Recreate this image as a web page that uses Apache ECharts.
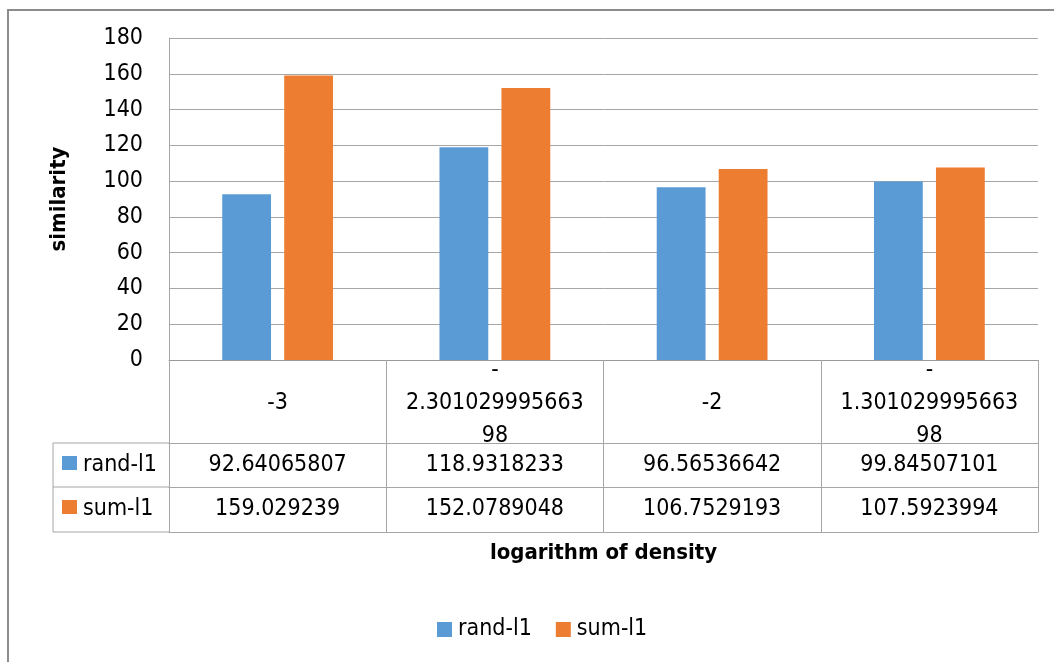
<!DOCTYPE html>
<html>
<head>
<meta charset="utf-8">
<script src="https://cdn.jsdelivr.net/npm/echarts@6/dist/echarts.min.js"></script>
<style>html,body{margin:0;padding:0;background:#fff;}#c{width:1054px;height:662px;}</style>
</head>
<body>
<div id="c"></div>
<script>
const categories = ['-3', '-\n2.301029995663\n98', '-2', '-\n1.301029995663\n98'];
const seriesNames = ['rand-l1', 'sum-l1'];
const randL1 = [92.64065807, 118.9318233, 96.56536642, 99.84507101];
const sumL1 = [159.029239, 152.0789048, 106.7529193, 107.5923994];
const yMin = 0, yMax = 180, yStep = 20;
const colors = ['#5B9BD5', '#ED7D31'];

const FONT = "'Liberation Sans Narrow', 'DejaVu Sans Condensed', sans-serif";
const FS = 23;
const FSB = 22;
const gridCol = '#a6a6a6';

const chart = echarts.init(document.getElementById('c'));
const hidden = {show: false};
const baseX = {
  type: 'category', data: categories, position: 'bottom', gridIndex: 0,
  axisLine: {show: true, lineStyle: {color: gridCol, width: 1}},
  axisTick: {show: false}
};
chart.setOption({
  backgroundColor: '#fff',
  animation: false,
  textStyle: {fontFamily: FONT},
  grid: {left: 169, right: 16, top: 38, bottom: 302, containLabel: false},
  legend: {
    data: seriesNames, top: 613, left: 432, icon: 'rect',
    itemWidth: 15, itemHeight: 15, itemGap: 24,
    textStyle: {fontFamily: FONT, fontSize: FS, color: '#000', padding: [0, 0, 0, 1]}
  },
  xAxis: [
    Object.assign({}, baseX, {
      axisLine: {show: true, lineStyle: {color: '#999', width: 1}},
      axisTick: {show: true, length: 172, interval: 0, lineStyle: {color: gridCol}},
      axisLabel: {interval: 0, margin: 43, verticalAlign: 'middle', lineHeight: 33,
        fontFamily: FONT, fontSize: FS, color: '#000'},
      name: 'logarithm of density', nameLocation: 'middle', nameGap: 193,
      nameTextStyle: {fontFamily: FONT, fontSize: FSB, fontWeight: 'bold', color: '#000', verticalAlign: 'middle'}
    }),
    Object.assign({}, baseX, {
      offset: 83,
      axisLabel: {interval: 0, margin: 22, verticalAlign: 'middle', fontFamily: FONT, fontSize: FS, color: '#000',
        formatter: (v, i) => String(randL1[i])}
    }),
    Object.assign({}, baseX, {
      offset: 127,
      axisLabel: {interval: 0, margin: 22, verticalAlign: 'middle', fontFamily: FONT, fontSize: FS, color: '#000',
        formatter: (v, i) => String(sumL1[i])}
    }),
    Object.assign({}, baseX, {offset: 172, axisLabel: hidden})
  ],
  yAxis: {
    type: 'value', min: yMin, max: yMax, interval: yStep,
    axisLine: {show: true, lineStyle: {color: gridCol}},
    axisTick: {show: false},
    splitLine: {show: true, lineStyle: {color: gridCol, width: 1}},
    axisLabel: {margin: 26, fontFamily: FONT, fontSize: FS, color: '#000'},
    name: 'similarity', nameLocation: 'middle', nameRotate: 90, nameGap: 110,
    nameTextStyle: {fontFamily: FONT, fontSize: FSB, fontWeight: 'bold', color: '#000', verticalAlign: 'middle'}
  },
  series: [
    {name: seriesNames[0], type: 'bar', data: randL1, itemStyle: {color: colors[0]},
      barCategoryGap: '49%', barGap: '27%'},
    {name: seriesNames[1], type: 'bar', data: sumL1, itemStyle: {color: colors[1]},
      barCategoryGap: '49%', barGap: '27%'}
  ],
  graphic: [
    {type: 'rect', shape: {x: 8, y: 10, width: 1100, height: 700}, style: {fill: 'none', stroke: '#8c8c8c', lineWidth: 2}, silent: true},
    {type: 'line', shape: {x1: 53, y1: 443, x2: 169, y2: 443}, style: {stroke: gridCol, lineWidth: 1}},
    {type: 'line', shape: {x1: 53, y1: 487, x2: 169, y2: 487}, style: {stroke: gridCol, lineWidth: 1}},
    {type: 'line', shape: {x1: 53, y1: 532, x2: 169, y2: 532}, style: {stroke: gridCol, lineWidth: 1}},
    {type: 'line', shape: {x1: 53, y1: 443, x2: 53, y2: 532}, style: {stroke: gridCol, lineWidth: 1}},
    {type: 'rect', shape: {x: 62, y: 456, width: 15, height: 14}, style: {fill: colors[0]}},
    {type: 'rect', shape: {x: 62, y: 500, width: 15, height: 14}, style: {fill: colors[1]}},
    {type: 'text', x: 83, y: 465, style: {text: seriesNames[0], font: FS + 'px ' + FONT, fill: '#000', textVerticalAlign: 'middle'}},
    {type: 'text', x: 83, y: 509, style: {text: seriesNames[1], font: FS + 'px ' + FONT, fill: '#000', textVerticalAlign: 'middle'}}
  ]
});
</script>
</body>
</html>
